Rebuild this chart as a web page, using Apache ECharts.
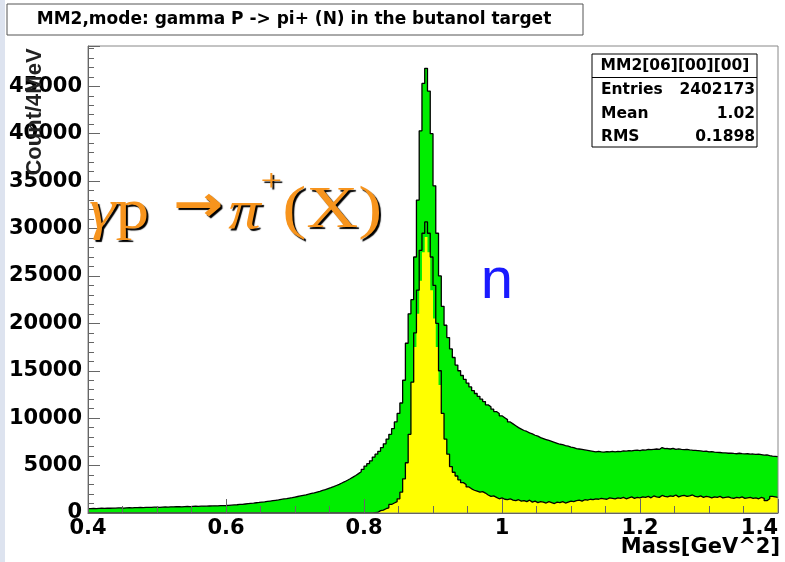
<!DOCTYPE html>
<html>
<head>
<meta charset="utf-8">
<script src="https://cdn.jsdelivr.net/npm/echarts@6/dist/echarts.min.js"></script>
<style>
html, body { margin: 0; padding: 0; background: #fff; }
#main { width: 785px; height: 562px; }
</style>
</head>
<body>
<div id="main"></div>
<script>
// histogram binning (GeV^2)
var binLo = 0.4;
var binWidth = 0.004;

// all events, counts per bin (green)
var allCounts = [
  470, 480, 470, 490, 500, 480, 510, 500, 520, 510,
  530, 540, 520, 550, 560, 540, 570, 560, 580, 570,
  590, 600, 590, 610, 620, 600, 630, 640, 620, 650,
  650, 660, 670, 650, 680, 690, 680, 700, 710, 700,
  720, 730, 720, 740, 750, 760, 750, 770, 780, 790,
  810, 830, 850, 870, 900, 920, 950, 980, 1010, 1040,
  1080, 1110, 1150, 1180, 1220, 1260, 1300, 1340, 1380, 1430,
  1480, 1520, 1570, 1620, 1680, 1740, 1800, 1860, 1920, 1990,
  2060, 2130, 2210, 2290, 2380, 2470, 2570, 2670, 2780, 2900,
  3020, 3160, 3300, 3450, 3610, 3780, 3960, 4150, 4360, 4600,
  4950, 5200, 5500, 5900, 6200, 6500, 6900, 7300, 7800, 8300,
  8900, 9600, 10500, 11600, 14000, 17900, 21000, 22500, 27000, 33000,
  40300, 45300, 46900, 44500, 40000, 34500, 29500, 25000, 21800, 19800,
  18500, 17300, 16400, 15600, 15000, 14500, 14100, 13700, 13300, 12900,
  12600, 12300, 12000, 11750, 11400, 11200, 10950, 10700, 10500, 10250,
  10050, 9850, 9600, 9400, 9200, 9000, 8850, 8700, 8600, 8450,
  8350, 8200, 8100, 7950, 7850, 7750, 7650, 7550, 7450, 7350,
  7250, 7200, 7100, 7050, 6950, 6900, 6800, 6750, 6700, 6650,
  6600, 6550, 6500, 6450, 6500, 6450, 6420, 6480, 6450, 6500,
  6450, 6500, 6480, 6550, 6520, 6580, 6550, 6600, 6620, 6580,
  6650, 6620, 6700, 6680, 6720, 6750, 6700, 6900, 6780, 6800,
  6750, 6820, 6700, 6760, 6700, 6680, 6720, 6650, 6620, 6600,
  6580, 6550, 6500, 6520, 6450, 6480, 6420, 6400, 6380, 6350,
  6340, 6300, 6320, 6280, 6250, 6300, 6260, 6230, 6250, 6200,
  6220, 6180, 6200, 6150, 6100, 6120, 6050, 6000, 5980, 5950
];

// selected events, outlined histogram
var selCounts = [
  0, 0, 0, 0, 0, 0, 0, 0, 0, 0,
  0, 0, 0, 0, 0, 0, 0, 0, 0, 0,
  0, 0, 0, 0, 0, 0, 0, 0, 0, 0,
  0, 0, 0, 0, 0, 0, 0, 0, 0, 0,
  0, 0, 0, 0, 0, 0, 0, 0, 0, 0,
  0, 0, 0, 0, 0, 0, 0, 0, 0, 0,
  0, 0, 0, 0, 0, 0, 0, 0, 0, 0,
  0, 0, 0, 0, 0, 0, 0, 0, 0, 0,
  0, 0, 0, 0, 0, 0, 0, 0, 0, 0,
  0, 0, 0, 0, 0, 0, 0, 0, 0, 0,
  0, 0, 0, 30, 60, 250, 300, 450, 550, 900,
  1050, 1200, 1500, 2200, 3600, 5300, 8300, 13800, 19000, 23500,
  27700, 29500, 30700, 29500, 27000, 24000, 20000, 15000, 10500, 7800,
  6200, 4900, 4300, 3900, 3500, 3200, 3000, 2750, 2550, 2400,
  2300, 2200, 2250, 2100, 1900, 1750, 1800, 1650, 1500, 1600,
  1450, 1400, 1500, 1350, 1300, 1400, 1250, 1300, 1200, 1350,
  1150, 1250, 1100, 1200, 1150, 1050, 1200, 1100, 1000, 1150,
  1100, 1200, 1050, 1150, 1250, 1200, 1300, 1350, 1250, 1400,
  1350, 1450, 1400, 1500, 1450, 1550, 1500, 1450, 1600, 1550,
  1500, 1600, 1550, 1650, 1500, 1600, 1700, 1550, 1650, 1600,
  1700, 1650, 1750, 1600, 1800, 1700, 1650, 1850, 1750, 1700,
  1800, 1750, 1900, 1700, 1800, 1850, 1750, 1800, 1900, 1750,
  1700, 1800, 1650, 1750, 1700, 1600, 1700, 1650, 1750, 1600,
  1650, 1700, 1600, 1550, 1650, 1600, 1700, 1550, 1600, 1650,
  1550, 1600, 1500, 1650, 1550, 1300, 1500, 1750, 1700, 1650
];

// yellow filled histogram (a bit lower than the outline at the peak)
var yelCounts = [
  0, 0, 0, 0, 0, 0, 0, 0, 0, 0,
  0, 0, 0, 0, 0, 0, 0, 0, 0, 0,
  0, 0, 0, 0, 0, 0, 0, 0, 0, 0,
  0, 0, 0, 0, 0, 0, 0, 0, 0, 0,
  0, 0, 0, 0, 0, 0, 0, 0, 0, 0,
  0, 0, 0, 0, 0, 0, 0, 0, 0, 0,
  0, 0, 0, 0, 0, 0, 0, 0, 0, 0,
  0, 0, 0, 0, 0, 0, 0, 0, 0, 0,
  0, 0, 0, 0, 0, 0, 0, 0, 0, 0,
  0, 0, 0, 0, 0, 0, 0, 0, 0, 0,
  0, 0, 0, 30, 60, 250, 300, 450, 550, 900,
  1050, 1200, 1500, 2200, 3600, 5300, 8300, 13800, 17500, 21000,
  24500, 27500, 29100, 27500, 23500, 20500, 17500, 13500, 10500, 7800,
  6200, 4900, 4300, 3900, 3500, 3200, 3000, 2750, 2550, 2400,
  2300, 2200, 2250, 2100, 1900, 1750, 1800, 1650, 1500, 1600,
  1450, 1400, 1500, 1350, 1300, 1400, 1250, 1300, 1200, 1350,
  1150, 1250, 1100, 1200, 1150, 1050, 1200, 1100, 1000, 1150,
  1100, 1200, 1050, 1150, 1250, 1200, 1300, 1350, 1250, 1400,
  1350, 1450, 1400, 1500, 1450, 1550, 1500, 1450, 1600, 1550,
  1500, 1600, 1550, 1650, 1500, 1600, 1700, 1550, 1650, 1600,
  1700, 1650, 1750, 1600, 1800, 1700, 1650, 1850, 1750, 1700,
  1800, 1750, 1900, 1700, 1800, 1850, 1750, 1800, 1900, 1750,
  1700, 1800, 1650, 1750, 1700, 1600, 1700, 1650, 1750, 1600,
  1650, 1700, 1600, 1550, 1650, 1600, 1700, 1550, 1600, 1650,
  1550, 1600, 1500, 1650, 1550, 1300, 1500, 1750, 1700, 1650
];

var statsRows = [
  ['Entries', '2402173'],
  ['Mean', '1.02'],
  ['RMS', '0.1898']
];

// bin lower edges + closing point, drawn with step:'end'
function stepData(vals) {
  var pts = vals.map(function (v, i) {
    return [+(binLo + i * binWidth).toFixed(3), v];
  });
  pts.push([+(binLo + vals.length * binWidth).toFixed(3), vals[vals.length - 1]]);
  return pts;
}

var boldFam = 'DejaVu Sans';
var orange = '#f7941d';
var chart = echarts.init(document.getElementById('main'));

// common bits for the orange reaction label
function orangeTok(extra) {
  var s = {
    fill: orange, color: orange, verticalAlign: 'bottom',
    textShadowColor: '#000', textShadowOffsetX: 2, textShadowOffsetY: 2, textShadowBlur: 1
  };
  for (var k in extra) s[k] = extra[k];
  return s;
}

var graphics = [
  // slide edge
  { type: 'rect', shape: { x: 0, y: 0, width: 5, height: 562 }, style: { fill: '#dde3ef' }, z: 0 },
  // title box
  { type: 'rect', shape: { x: 7, y: 4, width: 576, height: 31 }, style: { fill: '#fff', stroke: '#555', lineWidth: 1 }, z: 1 },
  {
    type: 'text', x: 294, y: 20, z: 2,
    style: {
      text: 'MM2,mode: gamma P -> pi+ (N) in the butanol target',
      fill: '#000', fontFamily: boldFam, fontWeight: 'bold', fontSize: 17,
      align: 'center', verticalAlign: 'middle', textAlign: 'center', textVerticalAlign: 'middle'
    }
  },
  // stats box
  { type: 'rect', shape: { x: 592, y: 54, width: 165, height: 93 }, style: { fill: '#fff', stroke: '#000', lineWidth: 1 }, z: 20 },
  { type: 'line', shape: { x1: 592, y1: 77.5, x2: 757, y2: 77.5 }, style: { stroke: '#000', lineWidth: 1 }, z: 21 },
  {
    type: 'text', x: 675, y: 66, z: 21,
    style: {
      text: 'MM2[06][00][00]', fill: '#000', fontFamily: boldFam, fontWeight: 'bold', fontSize: 15.5,
      align: 'center', verticalAlign: 'middle', textAlign: 'center', textVerticalAlign: 'middle'
    }
  },
  // y axis title
  {
    type: 'text', x: 35, y: 112, rotation: Math.PI / 2, z: 30,
    style: {
      text: 'Count/4MeV', fill: '#222', fontFamily: 'Liberation Sans', fontWeight: 'bold', fontSize: 22,
      align: 'center', verticalAlign: 'middle', textAlign: 'center', textVerticalAlign: 'middle'
    }
  },
  // x axis title
  {
    type: 'text', x: 780, y: 548, z: 30,
    style: {
      text: 'Mass[GeV^2]', fill: '#000', fontFamily: boldFam, fontWeight: 'bold', fontSize: 21,
      align: 'right', verticalAlign: 'middle', textAlign: 'right', textVerticalAlign: 'middle'
    }
  },
  // reaction label
  {
    type: 'text', x: 89, y: 241, scaleX: 1.2, z: 30,
    style: {
      text: '{g|γ}{p|p}{a|→}{pi|π}{s|+}{x|(X)}',
      verticalAlign: 'bottom', textVerticalAlign: 'bottom',
      rich: {
        g: orangeTok({ fontFamily: 'Liberation Serif', fontStyle: 'italic', fontSize: 56 }),
        p: orangeTok({ fontFamily: 'Liberation Serif', fontSize: 56 }),
        a: orangeTok({ fontFamily: boldFam, fontWeight: 'bold', fontSize: 50, padding: [0, 4, 8, 20] }),
        pi: orangeTok({ fontFamily: 'Liberation Serif', fontStyle: 'italic', fontSize: 54 }),
        s: orangeTok({ fontFamily: 'Liberation Serif', fontSize: 32, padding: [0, 0, 42, 0] }),
        x: orangeTok({ fontFamily: 'Liberation Serif', fontSize: 60 })
      }
    }
  },
  // neutron label
  {
    type: 'text', x: 497, y: 282, z: 30,
    style: {
      text: 'n', fill: '#1a1aff', fontFamily: 'Liberation Sans', fontSize: 58,
      align: 'center', verticalAlign: 'middle', textAlign: 'center', textVerticalAlign: 'middle'
    }
  }
];

statsRows.forEach(function (row, i) {
  var y = 90 + i * 23.5;
  graphics.push({
    type: 'text', x: 601, y: y, z: 21,
    style: { text: row[0], fill: '#000', fontFamily: boldFam, fontWeight: 'bold', fontSize: 15.5, align: 'left', verticalAlign: 'middle', textAlign: 'left', textVerticalAlign: 'middle' }
  });
  graphics.push({
    type: 'text', x: 755, y: y, z: 21,
    style: { text: row[1], fill: '#000', fontFamily: boldFam, fontWeight: 'bold', fontSize: 15.5, align: 'right', verticalAlign: 'middle', textAlign: 'right', textVerticalAlign: 'middle' }
  });
});

chart.setOption({
  animation: false,
  backgroundColor: '#fff',
  grid: {
    left: 88, top: 46, width: 690, height: 467,
    show: true, borderColor: '#888', borderWidth: 1, backgroundColor: 'transparent',
    z: 10, outerBoundsMode: 'none'
  },
  xAxis: {
    type: 'value', min: 0.4, max: 1.4, interval: 0.2, z: 10,
    axisLine: { show: true, onZero: false, lineStyle: { color: '#666', width: 1 } },
    axisTick: { show: true, inside: true, length: 14, lineStyle: { color: '#666', width: 1 } },
    minorTick: { show: true, splitNumber: 4, length: 7, lineStyle: { color: '#666', width: 1 } },
    splitLine: { show: false },
    minorSplitLine: { show: false },
    axisLabel: {
      color: '#000', fontFamily: boldFam, fontWeight: 'bold', fontSize: 21, margin: 5,
      alignMaxLabel: 'right'
    }
  },
  yAxis: {
    type: 'value', min: 0, max: 49250, interval: 5000, z: 10,
    axisLine: { show: true, onZero: false, lineStyle: { color: '#666', width: 1 } },
    axisTick: { show: true, inside: true, length: 12, lineStyle: { color: '#666', width: 1 } },
    minorTick: { show: true, splitNumber: 5, length: 6, lineStyle: { color: '#666', width: 1 } },
    splitLine: { show: false },
    minorSplitLine: { show: false },
    axisLabel: {
      color: '#000', fontFamily: boldFam, fontWeight: 'bold', fontSize: 21, margin: 6,
      showMaxLabel: false,
      formatter: function (v) { return String(v); }
    }
  },
  series: [
    {
      name: 'all', type: 'line', step: 'end', data: stepData(allCounts),
      symbol: 'none', silent: true,
      lineStyle: { color: '#000', width: 1.3 },
      areaStyle: { color: '#00ee00', opacity: 1 }
    },
    {
      name: 'yellow', type: 'line', step: 'end', data: stepData(yelCounts),
      symbol: 'none', silent: true,
      lineStyle: { width: 0, opacity: 0 },
      areaStyle: { color: '#ffff00', opacity: 1 }
    },
    {
      name: 'selected', type: 'line', step: 'end', data: stepData(selCounts),
      symbol: 'none', silent: true,
      lineStyle: { color: '#000', width: 1.3 }
    }
  ],
  graphic: graphics
});
</script>
</body>
</html>
